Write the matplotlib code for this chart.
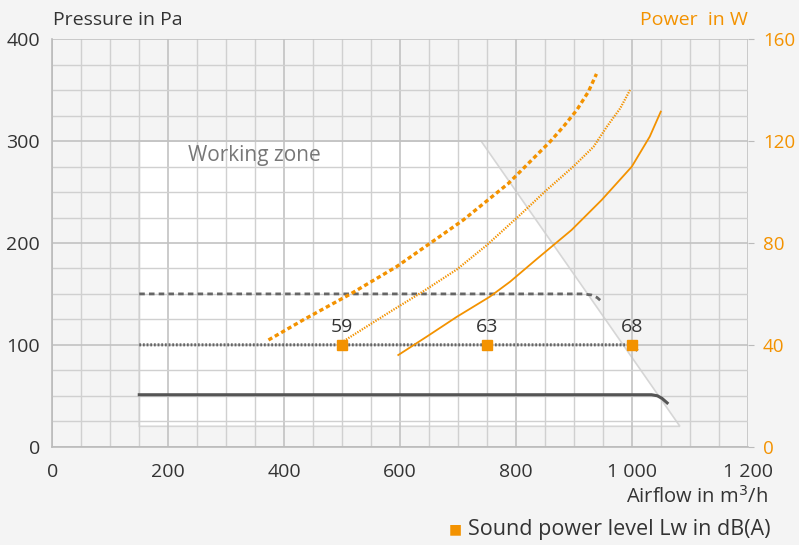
import matplotlib.pyplot as plt
from matplotlib.patches import Polygon
from matplotlib.ticker import MultipleLocator

plt.rcParams['font.family'] = ['Open Sans', 'DejaVu Sans']

# DATOS
x_ticks = [0, 200, 400, 600, 800, 1000, 1200]
x_tick_labels = ["0", "200", "400", "600", "800", "1 000", "1 200"]
p_ticks = [0, 100, 200, 300, 400]
w_ticks = [0, 40, 80, 120, 160]

# zona de trabajo (Pa)
zona_x = [150, 150, 740, 1083]
zona_y = [20, 300, 300, 20]

# curvas de presion (Pa)
p1_x = [150, 1034, 1044, 1052, 1061]
p1_y = [51, 51, 50, 47.5, 43]
p2_x = [150, 998, 1006, 1011]
p2_y = [100, 100, 96.6, 93.3]
p3_x = [150, 915, 930, 940, 948]
p3_y = [150, 150, 149, 146.5, 142.5]

# curvas de potencia (W)
w3_x = [373, 433, 514, 594, 652, 709, 787, 830, 859, 882, 905, 925, 939]
w3_y = [41.9, 49.8, 59.9, 70.7, 79.9, 89.0, 103.4, 113.2, 119.8, 125.7, 132.2, 139.4, 146.4]
w2_x = [503, 583, 640, 698, 750, 807, 853, 899, 934, 957, 980, 997]
w2_y = [41.5, 53.0, 61.0, 69.6, 79.2, 91.0, 100.8, 110.0, 117.8, 125.7, 132.9, 140.1]
w1_x = [597, 646, 698, 755, 790, 836, 896, 948, 1000, 1031, 1050]
w1_y = [36.0, 43.2, 51.0, 58.9, 64.8, 73.7, 85.1, 96.9, 110.0, 121.8, 131.6]

# nivel sonoro
lw_x = [500, 750, 1000]
lw_y = [100, 100, 100]
lw_val = ["59", "63", "68"]

naranja = '#f39200'
gris_txt = '#333333'
fondo = '#f4f4f4'

fig = plt.figure(figsize=(7.99, 5.45), dpi=100, facecolor=fondo)
ax = fig.add_axes([0.0655, 0.1804, 0.8703, 0.7475])
ax.set_facecolor(fondo)
ax.set_xlim(0, 1200)
ax.set_ylim(0, 400)

# zona de trabajo
zona = Polygon(list(zip(zona_x, zona_y)), closed=True, facecolor='white',
               edgecolor='#d6d6d6', linewidth=1.2, zorder=0.3)
ax.add_patch(zona)
ax.text(234, 286, "Working zone", fontsize=15, color='#777777', va='center', ha='left', zorder=1)

# rejilla
ax.set_axisbelow(True)
ax.xaxis.set_minor_locator(MultipleLocator(50))
ax.yaxis.set_minor_locator(MultipleLocator(25))
ax.grid(True, which='major', color='#c2c2c2', linewidth=1.2)
ax.grid(True, which='minor', color='#d0d0d0', linewidth=1.0)

for s in ['top', 'right']:
    ax.spines[s].set_visible(False)
for s in ['left', 'bottom']:
    ax.spines[s].set_color('#bbbbbb')
    ax.spines[s].set_linewidth(1.2)

ax.set_xticks(x_ticks)
ax.set_xticklabels(x_tick_labels)
ax.set_yticks(p_ticks)
ax.tick_params(axis='both', which='both', length=0, labelsize=14, labelcolor=gris_txt)
ax.tick_params(axis='x', pad=12)
ax.tick_params(axis='y', pad=9)

# presion
ax.plot(p1_x, p1_y, color='#555555', linewidth=2.2, zorder=3)
ax.plot(p2_x, p2_y, color='#666666', linewidth=2.2, linestyle=(0, (0.6, 0.6)), zorder=3)
ax.plot(p3_x, p3_y, color='#666666', linewidth=2.0, linestyle=(0, (2.0, 1.5)), zorder=3)

# nivel sonoro
ax.plot(lw_x, lw_y, linestyle='none', marker='s', markersize=7, color=naranja, zorder=5)
for xv, yv, t in zip(lw_x, lw_y, lw_val):
    ax.text(xv, yv + 18, t, fontsize=14, color=gris_txt, ha='center', va='center', zorder=5)

# potencia
ax2 = ax.twinx()
ax2.set_ylim(0, 160)
ax2.set_yticks(w_ticks)
for s in ax2.spines.values():
    s.set_visible(False)
ax2.tick_params(axis='y', length=4, color='#bbbbbb', labelsize=13.5, labelcolor=naranja, pad=7)
ax2.plot(w3_x, w3_y, color=naranja, linewidth=2.4, linestyle=(0, (1.3, 0.9)))
ax2.plot(w2_x, w2_y, color=naranja, linewidth=1.6, linestyle=(0, (0.6, 0.6)))
ax2.plot(w1_x, w1_y, color=naranja, linewidth=1.3)

# textos
fig.text(53 / 799, 1 - 20 / 545, "Pressure in Pa", fontsize=14, color=gris_txt, ha='left', va='center')
fig.text(748 / 799, 1 - 20 / 545, "Power  in W", fontsize=14, color=naranja, ha='right', va='center')
fig.text(768 / 799, 1 - 497 / 545, "Airflow in m$^3$/h", fontsize=14.5, color=gris_txt, ha='right', va='center')
fig.text(770 / 799, 1 - 530 / 545, "Sound power level Lw in dB(A)", fontsize=15.5, color=gris_txt, ha='right', va='center')
fig.text(455 / 799, 1 - 530 / 545, "\u25a0", fontsize=10, color=naranja, ha='center', va='center')

plt.savefig("out.png", dpi=100, facecolor=fondo)
